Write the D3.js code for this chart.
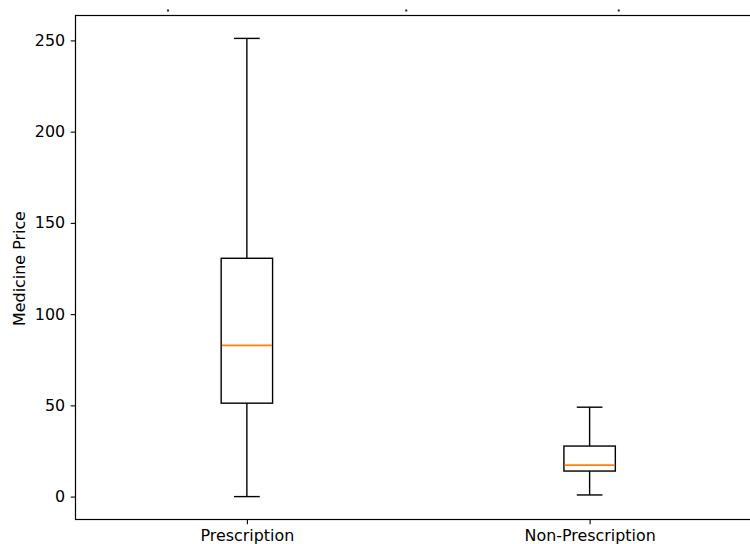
<!DOCTYPE html>
<html><head><meta charset="utf-8">
<script src="https://cdn.jsdelivr.net/npm/d3@7"></script>
<style>body{margin:0;background:#fff;} svg{display:block;}</style>
</head><body><svg id="c" width="750" height="544"></svg>
<script>
const categories = ["Prescription", "Non-Prescription"];
const boxPositions = [1, 2];
const whiskerLow = [0, 0.9];
const q1 = [51.2, 14.0];
const median = [82.9, 17.2];
const q3 = [130.6, 27.7];
const whiskerHigh = [251.1, 49.0];
const yTicks = [0, 50, 100, 150, 200, 250];
const topDots = [0.77, 1.465, 2.085];

const svg = d3.select("#c");
const L = 75.5, R = 761, T = 15.5, B = 519.5;
const x = d3.scaleLinear().domain([0.5, 2.5]).range([L, R]);
const y = d3.scaleLinear().domain([-12.55, 263.65]).range([B, T]);
const font = "DejaVu Sans, sans-serif";
const fs = 15.9;

const data = categories.map((c, i) => ({c, p: boxPositions[i], lo: whiskerLow[i], q1: q1[i], med: median[i], q3: q3[i], hi: whiskerHigh[i]}));
const bw = x(1.075) - x(0.925);
const cw = bw / 2;

const g = svg.append("g");
data.forEach(d => {
  const cx = x(d.p);
  const line = (x1, y1, x2, y2, col, w) => g.append("line").attr("x1", x1).attr("y1", y1).attr("x2", x2).attr("y2", y2)
    .attr("stroke", col || "#000").attr("stroke-width", w || 1.4);
  line(cx, y(d.q3), cx, y(d.hi));
  line(cx, y(d.q1), cx, y(d.lo));
  line(cx - cw / 2, y(d.hi), cx + cw / 2, y(d.hi));
  line(cx - cw / 2, y(d.lo), cx + cw / 2, y(d.lo));
  g.append("rect").attr("x", cx - bw / 2).attr("y", y(d.q3)).attr("width", bw).attr("height", y(d.q1) - y(d.q3))
    .attr("fill", "none").attr("stroke", "#000").attr("stroke-width", 1.4);
  line(cx - bw / 2 + 0.7, y(d.med), cx + bw / 2 - 0.7, y(d.med), "#ff7f0e", 1.7);
});

// spines
svg.append("rect").attr("x", L).attr("y", T).attr("width", R - L).attr("height", B - T)
  .attr("fill", "none").attr("stroke", "#000").attr("stroke-width", 1.2);

// y axis
const ya = svg.append("g").attr("transform", `translate(${L},0)`)
  .call(d3.axisLeft(y).tickValues(yTicks).tickSize(4.8).tickPadding(5.5));
ya.select(".domain").remove();
ya.selectAll("text").attr("font-family", font).attr("font-size", fs).attr("fill", "#000");
ya.selectAll("line").attr("stroke", "#000").attr("stroke-width", 1.1);

// x axis
const xa = svg.append("g").attr("transform", `translate(0,${B})`)
  .call(d3.axisBottom(x).tickValues(boxPositions).tickFormat((d, i) => categories[i]).tickSize(4.8).tickPadding(5.5));
xa.select(".domain").remove();
xa.selectAll("text").attr("font-family", font).attr("font-size", fs).attr("fill", "#000");
xa.selectAll("line").attr("stroke", "#000").attr("stroke-width", 1.1);

svg.append("text").attr("transform", `translate(25,${(T + B) / 2 + 1}) rotate(-90)`)
  .attr("text-anchor", "middle").attr("font-family", font).attr("font-size", fs).text("Medicine Price");

svg.selectAll(".dot").data(topDots).enter().append("rect").attr("class", "dot")
  .attr("x", d => x(d) - 1).attr("y", 9.5).attr("width", 2).attr("height", 2).attr("fill", "#222");
</script></body></html>
